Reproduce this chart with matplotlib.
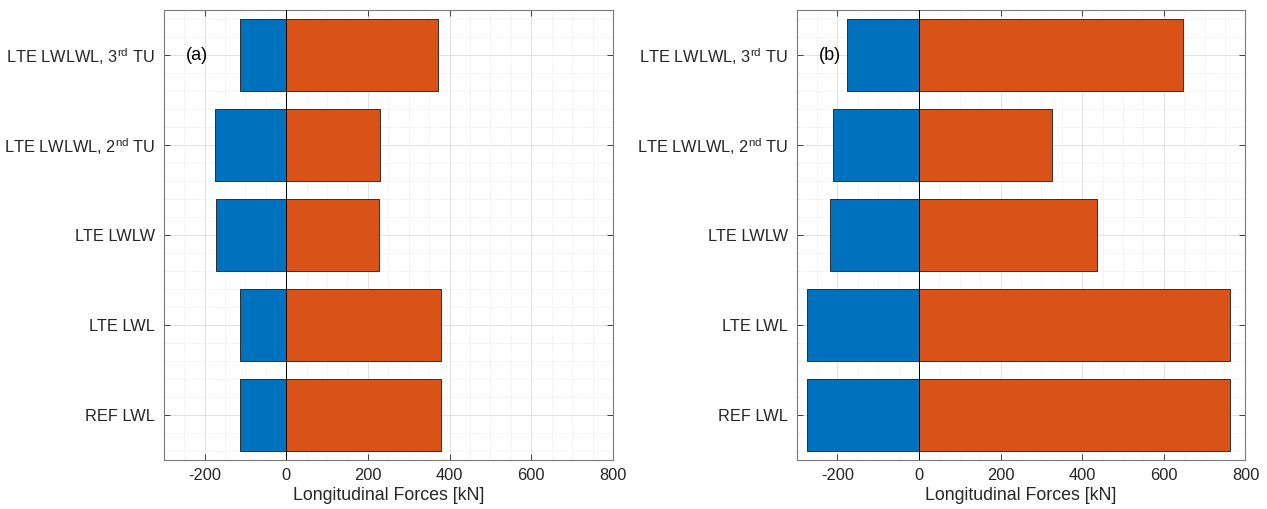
import matplotlib
matplotlib.use('Agg')
import matplotlib.pyplot as plt
from matplotlib.ticker import MultipleLocator

plt.rcParams['font.family'] = ['Liberation Sans', 'DejaVu Sans']
plt.rcParams['mathtext.fontset'] = 'custom'
plt.rcParams['mathtext.rm'] = 'Liberation Sans'
plt.rcParams['mathtext.it'] = 'Liberation Sans:italic'
plt.rcParams['axes.unicode_minus'] = False

# Data (kN), bottom to top
categories = ['REF LWL', 'LTE LWL', 'LTE LWLW',
              'LTE LWLWL, 2$^{\\rm nd}$ TU', 'LTE LWLWL, 3$^{\\rm rd}$ TU']
neg_a = [-112, -112, -173, -175, -112]
pos_a = [379, 379, 227, 229, 372]
neg_b = [-274, -274, -219, -210, -177]
pos_b = [761, 761, 435, 325, 648]
panel_labels = ['(a)', '(b)']

blue = '#0072BD'
orange = '#D95319'
axis_col = '#262626'


def draw_panel(ax, neg, pos, label):
    y = range(1, len(categories) + 1)
    ax.barh(y, neg, height=0.8, color=blue, edgecolor='#1a1a1a', linewidth=0.6, zorder=3)
    ax.barh(y, pos, height=0.8, color=orange, edgecolor='#1a1a1a', linewidth=0.6, zorder=3)
    ax.axvline(0, color='black', linewidth=0.7, zorder=4)

    ax.set_xlim(-300, 800)
    ax.set_ylim(0.5, 5.5)
    ax.set_yticks(list(y))
    ax.set_yticklabels(categories)
    ax.set_xticks([-200, 0, 200, 400, 600, 800])
    ax.xaxis.set_minor_locator(MultipleLocator(50))
    ax.yaxis.set_minor_locator(MultipleLocator(0.2))

    ax.grid(which='major', color='#dddddd', linewidth=0.6, zorder=0)
    ax.grid(which='minor', color='#dcdcdc', linewidth=0.5, linestyle=':', zorder=0)
    ax.set_axisbelow(True)

    ax.tick_params(which='major', direction='in', length=4, width=0.6,
                   top=True, right=True, colors=axis_col, labelsize=11.8, pad=6)
    ax.tick_params(which='minor', length=0)
    for sp in ax.spines.values():
        sp.set_color('#7a7a7a')
        sp.set_linewidth(0.8)

    ax.set_xlabel('Longitudinal Forces [kN]', fontsize=12.8, color=axis_col, labelpad=3)
    ax.text(-245, 5, label, ha='left', va='center', fontsize=13, color='black', zorder=5)


fig = plt.figure(figsize=(12.67, 5.09), dpi=100)
ax1 = fig.add_axes([0.1292, 0.0963, 0.3546, 0.884])
ax2 = fig.add_axes([0.6288, 0.0963, 0.3542, 0.884])

draw_panel(ax1, neg_a, pos_a, panel_labels[0])
draw_panel(ax2, neg_b, pos_b, panel_labels[1])

fig.savefig('out.png', dpi=100)
